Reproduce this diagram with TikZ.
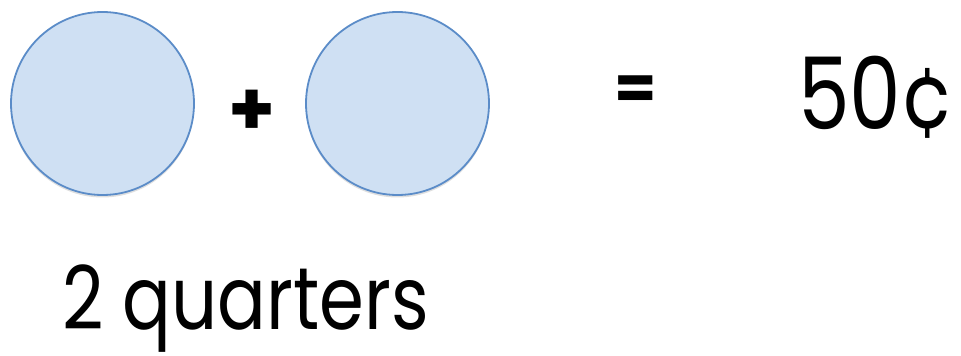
\documentclass[tikz,border=0pt]{standalone}
\usepackage{fontspec}
\setmainfont{Poppins}
\newfontfamily\narrowfont{Poppins}[FakeStretch=0.82]
\usetikzlibrary{shadows}
\definecolor{coinfill}{HTML}{CFE0F3}
\definecolor{coinline}{HTML}{5B8CC8}
\begin{document}
\begin{tikzpicture}[x=1pt,y=1pt,
  coin/.style={circle, draw=coinline, line width=1.8pt, fill=coinfill, minimum size=183pt, inner sep=0pt,
    drop shadow={opacity=0.25, shadow xshift=0pt, shadow yshift=-2.5pt}},
  optext/.style={font=\bfseries, inner sep=0pt},
  bigtext/.style={inner sep=0pt, anchor=base west}]
\useasboundingbox (0,0) rectangle (961,356);
\node[coin] (c1) at (102.5,252.5) {};
\node[coin] (c2) at (397.5,252.5) {};
\node[optext, font=\fontsize{75}{75}\selectfont\bfseries] (plus) at (252,243) {+};
\node[optext, font=\fontsize{61}{61}\selectfont\bfseries] (eq) at (636,263) {=};
\node[bigtext, font=\fontsize{100}{100}\narrowfont] (val) at (798,226) {50¢};
\node[bigtext, font=\fontsize{88}{88}\narrowfont] (lbl) at (62,26) {2 quarters};
\end{tikzpicture}
\end{document}
